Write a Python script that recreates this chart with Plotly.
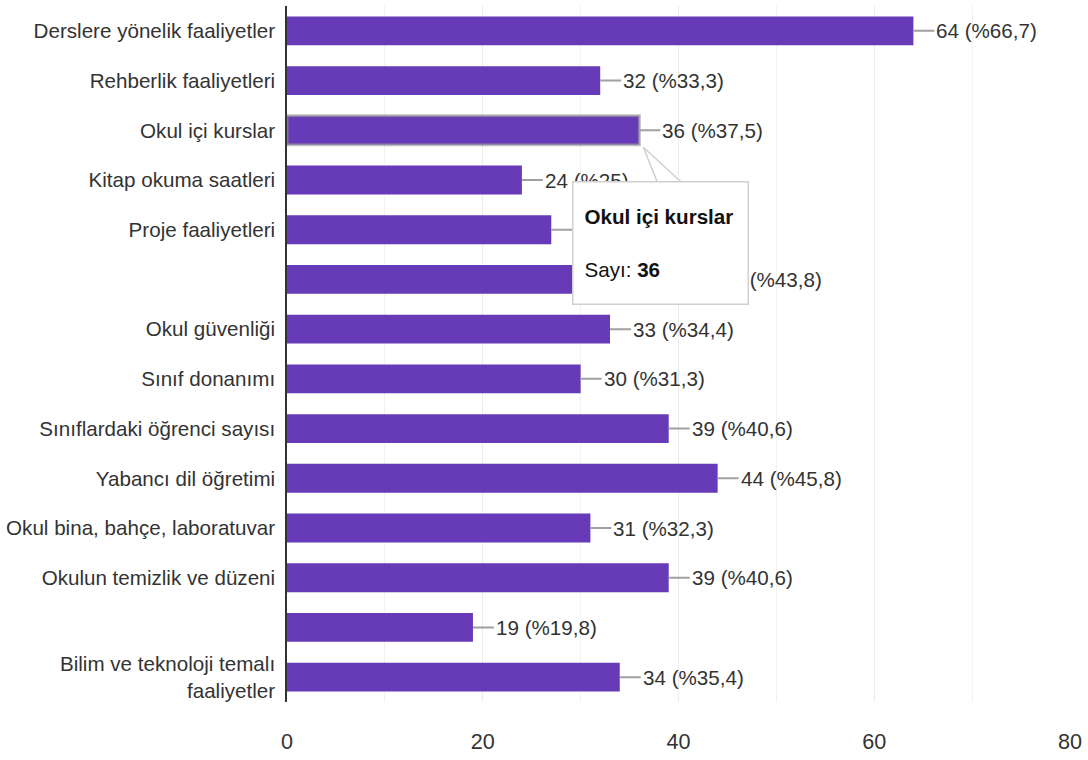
import plotly.graph_objects as go
from decimal import Decimal, ROUND_HALF_UP

categories = [
    "Derslere yönelik faaliyetler",
    "Rehberlik faaliyetleri",
    "Okul içi kurslar",
    "Kitap okuma saatleri",
    "Proje faaliyetleri",
    "",
    "Okul güvenliği",
    "Sınıf donanımı",
    "Sınıflardaki öğrenci sayısı",
    "Yabancı dil öğretimi",
    "Okul bina, bahçe, laboratuvar",
    "Okulun temizlik ve düzeni",
    "",
    "Bilim ve teknoloji temalı<br>faaliyetler",
]
values = [64, 32, 36, 24, 27, 42, 33, 30, 39, 44, 31, 39, 19, 34]
total_respondents = 96
x_ticks = [0, 20, 40, 60, 80]
hovered_index = 2
tooltip_title = "Okul içi kurslar"
count_label = "Sayı"

FONT = "Liberation Sans, Arial, sans-serif"
FS = 20.6
PURPLE = "#673AB7"
TEXT = "#333333"

def pct(v):
    p = Decimal(v * 100) / Decimal(total_respondents)
    p = p.quantize(Decimal("0.1"), rounding=ROUND_HALF_UP)
    s = str(p)
    if s.endswith(".0"):
        s = s[:-2]
    return s.replace(".", ",")

positions = list(range(len(values)))

line_colors = ["rgba(0,0,0,0)"] * len(values)
line_widths = [0] * len(values)
line_colors[hovered_index] = "rgba(150,150,150,0.6)"
line_widths[hovered_index] = 3

fig = go.Figure()
fig.add_trace(go.Bar(
    x=values,
    y=positions,
    orientation="h",
    width=0.58,
    marker=dict(color=PURPLE, line=dict(color=line_colors, width=line_widths)),
    hoverinfo="skip",
))

annotations = []
for i, v in enumerate(values):
    annotations.append(dict(
        x=v, y=i, xref="x", yref="y",
        text=f"{v} (%{pct(v)})",
        showarrow=True, arrowhead=0, arrowwidth=2, arrowcolor="#a0a0a0",
        ax=21, ay=0, standoff=0, startstandoff=0,
        xanchor="left", yanchor="middle",
        font=dict(family=FONT, size=FS, color=TEXT),
    ))

# tooltip box
annotations.append(dict(
    x=values[hovered_index], y=hovered_index, xref="x", yref="y",
    text=f"<b>{tooltip_title}</b><br><br>{count_label}: <b>{values[hovered_index]}</b>",
    showarrow=False, xanchor="left", yanchor="top",
    xshift=-67, yshift=-51,
    align="left", valign="middle",
    width=152, height=99, borderpad=11,
    bgcolor="white", bordercolor="#d0d0d0", borderwidth=1.5,
    font=dict(family=FONT, size=FS, color="#111111"),
))

fig.update_layout(
    width=1088, height=760,
    margin=dict(l=287, r=18, t=6, b=58),
    paper_bgcolor="white", plot_bgcolor="white",
    showlegend=False,
    annotations=annotations,
    shapes=[dict(
        type="path", xref="x", yref="y",
        xsizemode="pixel", ysizemode="pixel",
        xanchor=values[hovered_index], yanchor=hovered_index,
        path="M 4 -17 L 18 -52 L 42 -52 Z",
        fillcolor="white", line=dict(color="#d0d0d0", width=1.5),
        layer="above",
    )],
    xaxis=dict(
        range=[0, 80], tickvals=x_ticks,
        showgrid=True, gridcolor="#ebebeb", gridwidth=1,
        minor=dict(dtick=10, showgrid=True, gridcolor="#f2f2f2"),
        zeroline=False, showline=False,
        tickfont=dict(family=FONT, size=FS + 1, color=TEXT),
        ticks="", ticklabelstandoff=24, automargin=False,
    ),
    yaxis=dict(
        tickvals=positions, ticktext=categories,
        range=[len(values) - 0.5, -0.5],
        showgrid=False, zeroline=False,
        showline=True, linecolor="#333333", linewidth=1.5,
        ticks="", ticklabelstandoff=6, automargin=False,
        tickfont=dict(family=FONT, size=FS, color=TEXT),
    ),
)

fig.write_html(
    "out.html",
    config={"displayModeBar": False},
    post_script="document.body.style.margin='0';document.body.style.overflow='hidden';",
)
